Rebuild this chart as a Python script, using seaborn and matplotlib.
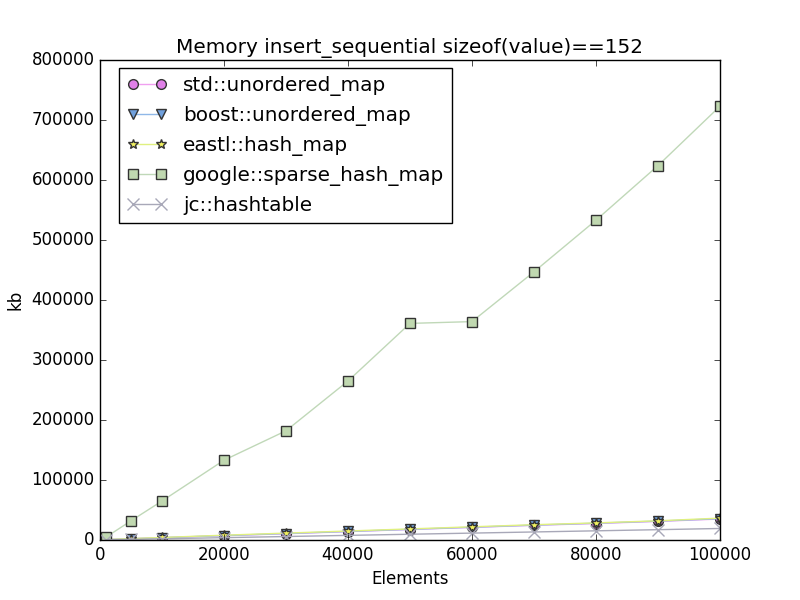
import pandas as pd
import seaborn as sns
import matplotlib
matplotlib.use("Agg")
import matplotlib.pyplot as plt

# element counts (x axis)
elements = [1000, 5000, 10000, 20000, 30000, 40000, 50000, 60000, 70000, 80000, 90000, 100000]

# memory usage in kb
std_unordered = [600, 2000, 3800, 7200, 10500, 14000, 17500, 21000, 24500, 27500, 31000, 35000]
boost_unordered = [600, 2100, 3900, 7400, 10800, 14300, 17800, 21300, 24800, 28000, 31500, 35500]
eastl_hash = [700, 2300, 4200, 8000, 11500, 15000, 18500, 22000, 25500, 28500, 32000, 36500]
google_sparse = [5000, 32000, 65000, 133000, 182000, 265000, 361000, 364000, 447000, 533000, 624000, 723000]
jc_hashtable = [300, 1000, 2000, 3900, 5800, 7700, 9600, 11500, 13400, 15300, 17200, 19200]

series_names = ["std::unordered_map", "boost::unordered_map", "eastl::hash_map",
                "google::sparse_hash_map", "jc::hashtable"]
series_values = [std_unordered, boost_unordered, eastl_hash, google_sparse, jc_hashtable]

# marker, line colour, marker face colour, marker size
styles = [
    ("o", "#f0a0f0", "#e080e8", 7),
    ("v", "#90b8e8", "#70a0dc", 7),
    ("*", "#e0f080", "#f0f060", 7),
    ("s", "#c0d8b8", "#c0d8b0", 7),
    ("x", "#a8a8b8", "#a8a8b8", 8),
]

plt.style.use("classic")
plt.rcParams["figure.facecolor"] = "white"
plt.rcParams["savefig.facecolor"] = "white"
plt.rcParams["font.family"] = ["DejaVu Sans"]

fig, ax = plt.subplots(figsize=(8, 6), dpi=100)

for name, vals, (mk, lc, fc, ms) in zip(series_names, series_values, styles):
    df = pd.DataFrame({"Elements": elements, "kb": vals})
    edge = lc if mk == "x" else "#333333"
    sns.lineplot(data=df, x="Elements", y="kb", ax=ax, estimator=None,
                 color=lc, marker=mk, markersize=ms, markerfacecolor=fc,
                 markeredgecolor=edge, markeredgewidth=1, linewidth=1,
                 label=name)

ax.set_xlim(0, 100000)
ax.set_ylim(0, 800000)
ax.set_xticks(range(0, 100001, 20000))
ax.set_yticks(range(0, 800001, 100000))
ax.ticklabel_format(style="plain", useOffset=False)
ax.set_xlabel("Elements")
ax.set_ylabel("kb")
ax.set_title("Memory insert_sequential sizeof(value)==152")
ax.legend(loc="upper left", bbox_to_anchor=(0.031, 0.984), borderaxespad=0,
          numpoints=2, fontsize="large")

plt.savefig("out.png", dpi=100)
